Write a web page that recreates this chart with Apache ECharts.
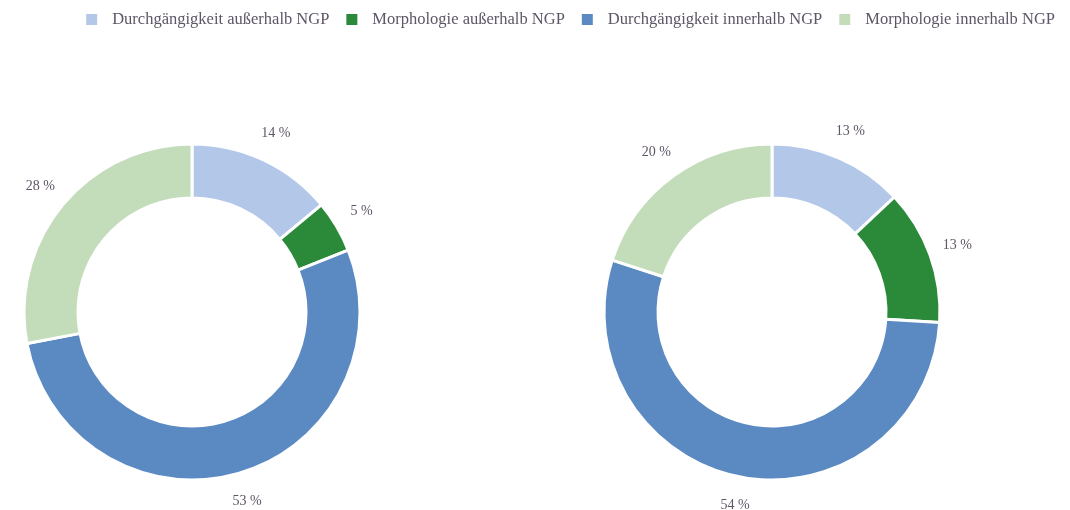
<!DOCTYPE html>
<html>
<head>
<meta charset="utf-8">
<script src="https://cdn.jsdelivr.net/npm/echarts@6/dist/echarts.min.js"></script>
<style>
  html, body { margin: 0; padding: 0; background: #fff; }
  #chart { width: 1070px; height: 510px; }
</style>
</head>
<body>
<div id="chart"></div>
<script>
// categories (legend order) and colours
var categories = [
    "Durchgängigkeit außerhalb NGP",
    "Morphologie außerhalb NGP",
    "Durchgängigkeit innerhalb NGP",
    "Morphologie innerhalb NGP"
];
var colors = ["#b3c8e8", "#2b8a3a", "#5b8ac3", "#c3dcba"];

// shares in percent
var leftValues = [14, 5, 53, 28];
var rightValues = [13, 13, 54, 20];

var FONT = "'Liberation Serif', 'DejaVu Serif', serif";
var TEXT = "#5e5566";

function toData(values) {
    return values.map(function(v, i) { return { name: categories[i], value: v }; });
}

// visible ring
function ring(values, cx) {
    return {
        type: "pie", center: [cx, 312], radius: [114, 168],
        startAngle: 90, clockwise: true,
        data: toData(values),
        itemStyle: { borderColor: "#fff", borderWidth: 3 },
        label: { show: false }, labelLine: { show: false },
        emphasis: { disabled: true },
    };
}

// transparent outer ring that only carries the percent labels
function labels(values, cx) {
    return {
        type: "pie", center: [cx, 312], radius: [189, 199],
        startAngle: 90, clockwise: true, silent: true,
        data: toData(values),
        itemStyle: { color: "transparent" },
        label: { show: true, position: "inside", formatter: "{c} %",
                 color: TEXT, fontFamily: FONT, fontSize: 14 },
        labelLine: { show: false },
        emphasis: { disabled: true },
    };
}

var chart = echarts.init(document.getElementById("chart"));
chart.setOption({
    animation: false,
    color: colors,
    legend: {
        data: categories, top: 6, right: 10,
        icon: "rect", itemWidth: 13, itemHeight: 13, itemGap: 15,
        textStyle: { color: TEXT, fontFamily: FONT, fontSize: 16.5, padding: [0, 0, 0, 9] },
    },
    series: [
        ring(leftValues, 192),
        ring(rightValues, 772),
        labels(leftValues, 192),
        labels(rightValues, 772),
    ],
});
</script>
</body>
</html>
